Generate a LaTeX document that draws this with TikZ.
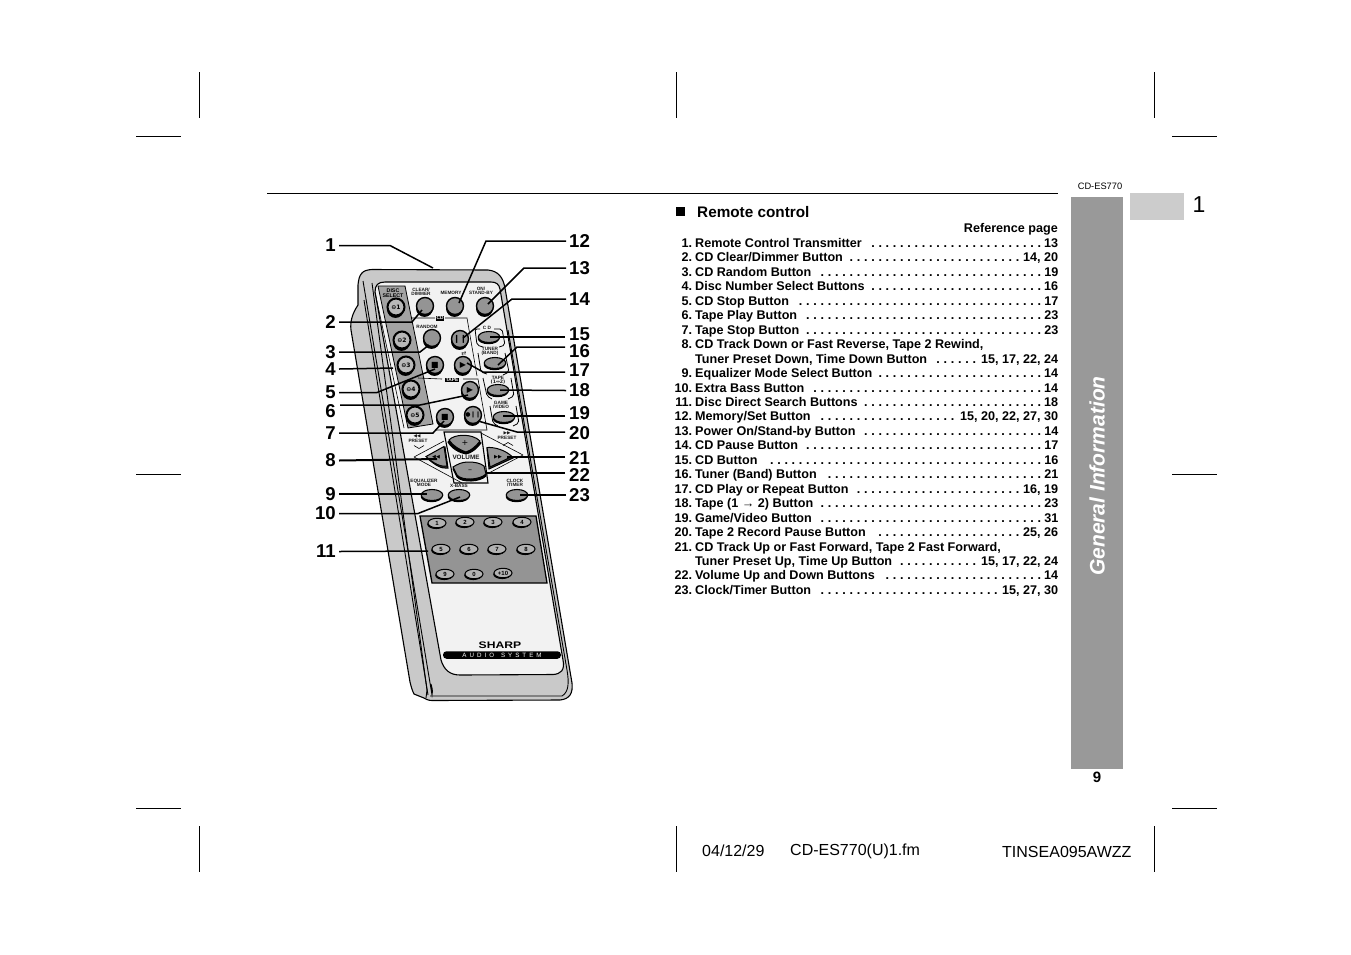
\documentclass[tikz,border=0pt]{standalone}
\usepackage{fontspec}
\setmainfont{Liberation Sans}
\newfontfamily\symf{DejaVu Sans}
\usetikzlibrary{shadows,shapes.geometric}
\newcommand{\fs}[1]{\fontsize{#1}{#1}\selectfont}
\newcommand{\rowline}[4]{%
  \node[rowtext] (row#1) at (674,#2) {\hbox to 384pt{\hbox to 18pt{\hss #3}\hskip 3pt #4\hfill}};}
\newcommand{\dotrow}[6]{% name y num text gap page
  \node[rowtext] (row#1) at (674,#2) {\hbox to 384pt{\hbox to 18pt{\hss #3}\hskip 3pt #4\hskip #5pt\leaders\hbox to 7.23pt{\hss.\hss}\hfill\hskip 0.5pt #6}};}
\tikzset{
  x=1pt,y=-1pt,
  rowtext/.style={anchor=base west,yshift=-4.6pt,inner sep=0pt,font=\bfseries\fs{12.6}},
  crop/.style={line width=0.8pt,black},
  num/.style={font=\bfseries\fs{18.6},inner sep=3pt},
  numL/.style={num,anchor=east},
  numR/.style={num,anchor=west},
  leader/.style={line width=1.5pt,black,line join=miter},
  body/.style={draw=black,line width=1.1pt,fill=black!21},
  edge/.style={draw=black,line width=0.9pt},
  thinl/.style={draw=black,line width=0.6pt},
  rb/.style={circle,minimum size=17pt,inner sep=0pt,draw=black,line width=1.4pt,fill=black!42,
    general shadow={shadow xshift=-0.5pt,shadow yshift=-2.4pt,fill=black}},
  db/.style={rb,minimum size=17pt,line width=2pt,fill=black!28},
  ob/.style={ellipse,minimum width=21.5pt,minimum height=11pt,inner sep=0pt,draw=black,line width=1.1pt,fill=black!42,
    general shadow={shadow xshift=-0.5pt,shadow yshift=-1.7pt,fill=black}},
  nb/.style={ellipse,minimum width=18pt,minimum height=9.5pt,inner sep=0pt,draw=black,line width=1pt,fill=black!30,
    font=\bfseries\fs{6},text=black,
    general shadow={shadow xshift=-0.8pt,shadow yshift=-1.3pt,fill=black}},
  tiny/.style={font=\bfseries\fs{4.7},align=center,inner sep=0pt,text=black!90},
  vb/.style={draw=black,line width=1pt,fill=black!42},
  sym/.style={inner sep=0pt,font=\symf\fs{8}},
  ftr/.style={font=\fs{16},inner sep=0pt,anchor=west},
}
\begin{document}
\begin{tikzpicture}
\useasboundingbox (0,0) rectangle (1351,954);
\fill[white] (0,0) rectangle (1351,954);
% crop marks
\foreach \cx in {199,676,1154}{
  \draw[crop] (\cx,72) -- (\cx,118);
  \draw[crop] (\cx,826) -- (\cx,872);}
\foreach \cy in {136,474,808}{
  \draw[crop] (136,\cy) -- (181,\cy);
  \draw[crop] (1172,\cy) -- (1217,\cy);}
\draw[crop] (267,193.5) -- (1058,193.5);
% sidebar
\fill[black!40] (1071,197) rectangle (1123,769);
\fill[black!20] (1130,193) rectangle (1184,220);
\node[inner sep=0pt,font=\fs{23}] (tabnum) at (1199,205) {1};
\node[inner sep=0pt,font=\fs{9.3}] (model) at (1100,186) {CD-ES770};
\node[inner sep=0pt,font=\bfseries\fs{15}] (pageno) at (1097,777) {9};
\node[inner sep=0pt,rotate=90,text=white,font=\bfseries\itshape\fs{21}] (side) at (1097,476) {General Information};
% footer
\node[ftr] (f1) at (702,851) {04/12/29};
\node[ftr] (f2) at (790,851) {CD-ES770(U)1.fm};
\node[ftr] (f3) at (1002,852) {TINSEA095AWZZ};
% heading
\fill[black] (676,207) rectangle (684.5,216);
\node[inner sep=0pt,anchor=west,font=\bfseries\fs{15.3}] (head) at (697,212) {Remote control};
\node[inner sep=0pt,anchor=east,font=\bfseries\fs{12.6}] (refp) at (1058,229) {Reference page};
% rows
\dotrow{a}{242.5}{1.}{Remote Control Transmitter}{3}{13}
\dotrow{b}{257}{2.}{CD Clear/Dimmer Button}{4}{14, 20}
\dotrow{c}{271.5}{3.}{CD Random Button}{3}{19}
\dotrow{d}{286}{4.}{Disc Number Select Buttons}{3}{16}
\dotrow{e}{300.5}{5.}{CD Stop Button}{8}{17}
\dotrow{f}{315}{6.}{Tape Play Button}{3}{23}
\dotrow{g}{329.5}{7.}{Tape Stop Button}{3}{23}
\rowline{h}{344}{8.}{CD Track Down or Fast Reverse, Tape 2 Rewind,}
\dotrow{i}{358.5}{}{Tuner Preset Down, Time Down Button}{2}{15, 17, 22, 24}
\dotrow{j}{373}{9.}{Equalizer Mode Select Button}{3}{14}
\dotrow{k}{387.5}{10.}{Extra Bass Button}{3}{14}
\dotrow{l}{402}{11.}{Disc Direct Search Buttons}{3}{18}
\dotrow{m}{416}{12.}{Memory/Set Button}{8}{15, 20, 22, 27, 30}
\dotrow{n}{431}{13.}{Power On/Stand-by Button}{5}{14}
\dotrow{o}{445}{14.}{CD Pause Button}{3}{17}
\dotrow{p}{460}{15.}{CD Button}{4}{16}
\dotrow{q}{474}{16.}{Tuner (Band) Button}{8}{21}
\dotrow{r}{489}{17.}{CD Play or Repeat Button}{5}{16, 19}
\dotrow{s}{503}{18.}{Tape (1 → 2) Button}{3}{23}
\dotrow{t}{517.5}{19.}{Game/Video Button}{3}{31}
\dotrow{u}{532}{20.}{Tape 2 Record Pause Button}{8}{25, 26}
\rowline{v}{546.5}{21.}{CD Track Up or Fast Forward, Tape 2 Fast Forward,}
\dotrow{w}{561}{}{Tuner Preset Up, Time Up Button}{3}{15, 17, 22, 24}
\dotrow{x}{575}{22.}{Volume Up and Down Buttons}{6}{14}
\dotrow{y}{590}{23.}{Clock/Timer Button}{3}{15, 27, 30}

% ---------- remote body
\path[body] (358,285) .. controls (359,274) and (362,270) .. (372,269.5)
  -- (488,270) .. controls (498,271) and (503,277) .. (505,288)
  -- (572,683) .. controls (573,693) and (570,699) .. (560,700)
  -- (432,700.5) .. controls (428,700.5) and (426,699) .. (424,698)
  -- (414,694) .. controls (412,690) and (411,686) .. (410,682)
  -- (351,330) .. controls (350,322) and (352,314) .. (358,305) -- cycle;
\draw[edge] (363,281) -- (432,695) .. controls (433,690) and (432,688) .. (431,684);
\draw[edge] (372,283) -- (427,690) (427,690) -- (426,698);
\draw[edge] (364,300) -- (428,695);
% right inner edge
\draw[edge] (508,330) -- (567,670) .. controls (569,682) and (569,692) .. (562,696) -- (430,696);
% face
\path[draw=black,line width=1.1pt,fill=black!5] (375,292) .. controls (375,285) and (378,282) .. (385,282)
  -- (491,282) .. controls (496,282) and (499,284) .. (500,289)
  -- (563,660) .. controls (565,670) and (561,674) .. (553,674.5)
  -- (460,675) .. controls (450,675) and (444,670) .. (441,660) -- cycle;
% disc strip
\path[fill=black!36,draw=black,line width=0.8pt] (378,286) -- (405,286) -- (433,424) -- (408,428) -- cycle;
\draw[thinl] (375,292) -- (404,428);
% frames
\draw[thinl] (412,318) -- (435,318) (445,318) -- (467,318) -- (477,376);
\draw[thinl] (418,378) -- (442,379) (463,379) -- (478,379) -- (487,430) -- (435,430);
\node[fill=black,text=white,inner sep=0.8pt,font=\bfseries\fs{4.8}] (cdtag) at (440,318) {CD};
\node[fill=black,text=white,inner sep=0.8pt,font=\bfseries\fs{4.8}] (tapetag) at (452,380) {TAPE};
% brackets
\draw[thinl,line width=0.8pt,rounded corners=2pt] (480,329) -- (475,329) -- (477,345) -- (483,347);
\draw[thinl,line width=0.8pt,rounded corners=2pt] (494,329) -- (502,329) -- (505,345) -- (499,347);
\draw[thinl,line width=0.8pt,rounded corners=2pt] (478,353) -- (481,372) -- (487,374);
\draw[thinl,line width=0.8pt,rounded corners=2pt] (505,353) -- (509,372) -- (503,375);
\draw[thinl,line width=0.8pt,rounded corners=2pt] (483,378) -- (487,396) -- (492,399);
\draw[thinl,line width=0.8pt,rounded corners=2pt] (511,378) -- (514,396) -- (508,399);
\draw[thinl,line width=0.8pt,rounded corners=2pt] (490,406) -- (493,423) -- (498,426);
\draw[thinl,line width=0.8pt,rounded corners=2pt] (516,406) -- (519,423) -- (513,426);
% tiny labels
\node[tiny,text=black,font=\bfseries\fs{5.3}] (tdisc) at (393,293) {DISC\\[-0.5pt]SELECT};
\node[tiny] (tclear) at (421,291.5) {CLEAR/\\[-0.5pt]DIMMER};
\node[tiny] (tmem) at (451,293) {MEMORY};
\node[tiny] (tonst) at (481,291) {ON/\\[-0.5pt]STAND-BY};
\node[tiny] (trand) at (427,327) {RANDOM};
\node[tiny] (tcdb) at (487,328) {C D};
\node[tiny] (ttun) at (490,351) {TUNER\\[-0.5pt](BAND)};
\node[tiny,font=\symf\fs{6}] (trep) at (464,354) {⇄};
\node[tiny] (ttape) at (498,380.5) {TAPE\\[-0.5pt]{\symf (1↔2)}};
\node[tiny] (tgame) at (501,405) {GAME\\[-0.5pt]/VIDEO};
\node[tiny,font=\symf\fs{4.5}] (tpls) at (417,436) {◀◀};
\node[tiny] (tpl) at (418,441) {PRESET};
\node[tiny,font=\symf\fs{4.5}] (tprs) at (507,433) {▶▶};
\node[tiny] (tpr) at (507,438) {PRESET};
\node[tiny,font=\bfseries\fs{6.3}] (tvol) at (466,457) {VOLUME};
\node[tiny] (teq) at (424,483) {EQUALIZER\\[-0.5pt]MODE};
\node[tiny] (txb) at (459,486) {X-BASS};
\node[tiny] (tclk) at (515,483) {CLOCK\\[-0.5pt]/TIMER};
% chevrons near PRESET
\draw[thinl] (414,445.5) -- (419,448.5) -- (424,445.5);
\draw[thinl] (503,445.5) -- (508,442.5) -- (513,445.5);
% volume frame + diamond
\draw[thinl] (414,457) -- (444,441) (414,457) -- (462,483);
\draw[thinl] (523,455) -- (481,433);
\draw[thinl] (523,455) -- (487,474);
\draw[draw=black,line width=1.1pt] (444,432) -- (481,432) -- (488,483) -- (454,483) -- cycle;
% volume / seek buttons
\path[vb,fill=black] (448,442) .. controls (452,436) and (470,435) .. (481,443) .. controls (477,448) and (472,453) .. (466,454) .. controls (460,453) and (452,449) .. (448,442) -- cycle;
\path[vb] (449,440) .. controls (454,434) and (472,433) .. (480,441) .. controls (476,446) and (472,450) .. (466,452) .. controls (460,450) and (453,446) .. (449,440) -- cycle;
\node[sym] (vplus) at (465,443) {+};
\path[vb,fill=black] (453,469) .. controls (458,466) and (462,463) .. (468,463) .. controls (475,463) and (480,464) .. (484,467) -- (486,476) .. controls (480,482) and (462,483) .. (457,477) -- cycle;
\path[vb] (453,467) .. controls (458,464) and (462,462) .. (468,462) .. controls (475,462) and (480,463) .. (484,466) -- (486,474) .. controls (480,480) and (462,481) .. (457,475) -- cycle;
\node[sym] (vminus) at (470,471) {–};
\path[vb,fill=black!80] (427,458) -- (445,447) -- (448,468) .. controls (442,469) and (436,466) .. (427,458) -- cycle;
\path[vb] (426,456.5) -- (444,446.5) -- (447,466) .. controls (441,467) and (434,464) .. (426,456.5) -- cycle;
\node[sym,font=\symf\fs{5}] (srew) at (436,457) {◀◀};
\path[vb,fill=black!80] (487,449) .. controls (495,449) and (505,452) .. (513,458) -- (489,469) -- cycle;
\path[vb] (487,447.5) .. controls (495,447) and (505,450) .. (512,456.5) -- (490,467) -- cycle;
\node[sym,font=\symf\fs{5}] (sff) at (498,457) {▶▶};
% round buttons
\node[db] (d1) at (396,307) {};
\node[db] (d2) at (402,340) {};
\node[db] (d3) at (406,365) {};
\node[db] (d4) at (411,389) {};
\node[db] (d5) at (415,415) {};
\foreach \n/\lab in {d1/1,d2/2,d3/3,d4/4,d5/5}{
  \node[inner sep=0pt,font=\symf\bfseries\fs{6}] (t\n) at (\n) {⊖\lab};}
\node[rb] (bclear) at (425,306) {};
\node[rb] (bmem) at (455,306) {};
\node[rb] (bpow) at (485,306) {};
\node[rb] (brand) at (432,338) {};
\node[rb] (bpause) at (460,339) {};
\node[rb] (bstop) at (435,365) {};
\node[rb] (bplay) at (463,365) {};
\node[rb] (btplay) at (470,390) {};
\node[rb] (btstop) at (445,417) {};
\node[rb] (brec) at (473,415) {};
\node[sym] (ip) at (bpause) {❙❙};
\node[sym] (is) at (bstop) {■};
\node[sym] (iply) at (bplay) {▶};
\node[sym] (itp) at (btplay) {▶};
\node[sym] (its) at (btstop) {■};
\node[sym,font=\symf\fs{6}] (ir) at (brec) {●❙❙};
% oval buttons
\node[ob] (bcd) at (489,337) {};
\node[ob] (btun) at (495,363) {};
\node[ob] (btape) at (498,390) {};
\node[ob] (bgame) at (504,417) {};
\node[ob] (beq) at (432,495) {};
\node[ob] (bxb) at (459,495) {};
\node[ob] (bclk) at (517,495) {};
% number panel
\path[fill=black!42,draw=black,line width=1.3pt] (420,516) -- (536,516) -- (547,583) -- (432,583) -- cycle;
\node[nb] (n1) at (437,523) {1};
\node[nb] (n2) at (465,522) {2};
\node[nb] (n3) at (493,522) {3};
\node[nb] (n4) at (522,522) {4};
\node[nb] (n5) at (441,549) {5};
\node[nb] (n6) at (469,549) {6};
\node[nb] (n7) at (497,549) {7};
\node[nb] (n8) at (526,549) {8};
\node[nb] (n9) at (445,574) {9};
\node[nb] (n0) at (474,574) {0};
\node[nb] (n10) at (503,573) {+10};
% brand
\node[inner sep=0pt,font=\bfseries\fs{9.5},xscale=1.28,transform shape] (sharp) at (500,645) {SHARP};
\node[fill=black,text=white,rounded corners=3.5pt,minimum width=118pt,minimum height=7.5pt,inner sep=0pt,font=\fs{6.2}] (audio) at (502,655) {A\hskip 3pt U\hskip 3pt D\hskip 3pt I\hskip 3pt O\hskip 7pt S\hskip 3pt Y\hskip 3pt S\hskip 3pt T\hskip 3pt E\hskip 3pt M};

% targets
\coordinate (T1) at (433,268);
\coordinate (T2) at (422,310);
\coordinate (T3) at (429,345);
\coordinate (T4) at (393,368);
\coordinate (T5) at (435,369);
\coordinate (T6) at (468,395);
\coordinate (T7) at (444,421);
\coordinate (T8) at (437,459);
\coordinate (T9) at (427,494);
\coordinate (T10) at (460,497);
\coordinate (T11) at (428,551);
\coordinate (T12) at (459,303);
\coordinate (T13) at (488,304);
\coordinate (T14) at (463,338);
\coordinate (T15) at (490,337);
\coordinate (T16) at (498,365);
\coordinate (T17) at (467,363);
\coordinate (T18) at (500,390);
\coordinate (T19) at (503,416);
\coordinate (T20) at (478,421);
\coordinate (T21) at (507,457);
\coordinate (T22) at (487,473);
\coordinate (T23) at (520,495);
% line starts that do not sit at their number's mid-height
\coordinate (S6) at (340,405);
\coordinate (S15) at (565,337);
\coordinate (S16) at (565,347);
\coordinate (S17) at (565,372);
\coordinate (S19) at (565,416);
\coordinate (S20) at (565,432);
\coordinate (S21) at (565,457);
\coordinate (S22) at (565,473);
% left numbers
\node[numL] (L1) at (339,245.5) {1};
\node[numL] (L2) at (339,322) {2};
\node[numL] (L3) at (339,352) {3};
\node[numL] (L4) at (339,369) {4};
\node[numL] (L5) at (339,392.5) {5};
\node[numL] (L6) at (339,411) {6};
\node[numL] (L7) at (339,433) {7};
\node[numL] (L8) at (339,460.5) {8};
\node[numL] (L9) at (339,494) {9};
\node[numL] (L10) at (339,513.5) {10};
\node[numL] (L11) at (339,551.5) {11};
% right numbers
\node[numR,inner ysep=0pt] (R12) at (566,241) {12};
\node[numR,inner ysep=0pt] (R13) at (566,268) {13};
\node[numR,inner ysep=0pt] (R14) at (566,299) {14};
\node[numR,inner ysep=0pt] (R15) at (566,334) {15};
\node[numR,inner ysep=0pt] (R16) at (566,351) {16};
\node[numR,inner ysep=0pt] (R17) at (566,370) {17};
\node[numR,inner ysep=0pt] (R18) at (566,390.5) {18};
\node[numR,inner ysep=0pt] (R19) at (566,413) {19};
\node[numR,inner ysep=0pt] (R20) at (566,433) {20};
\node[numR,inner ysep=0pt] (R21) at (566,458) {21};
\node[numR,inner ysep=0pt] (R22) at (566,474.5) {22};
\node[numR,inner ysep=0pt] (R23) at (566,495) {23};
% leaders
\draw[leader] (L1.east) -- (390,245.5) -- (T1);
\draw[leader] (L2.east) -- (412,322) -- (T2);
\draw[leader] (L3.east) -- (420,352) -- (T3);
\draw[leader] (L4.east) -- (T4);
\draw[leader] (L5.east) -- (377,392.5) -- (T5);
\draw[leader] (S6) -- (420,405) -- (T6);
\draw[leader] (L7.east) -- (433,433) -- (T7);
\draw[leader,line width=2pt] (L8.east) -- (T8);
\draw[leader] (L9.east) -- (T9);
\draw[leader] (L10.east) -- (418,513.5) -- (T10);
\draw[leader] (L11.east) -- (T11);
\draw[leader] (R12.west) -- (486,241) -- (T12);
\draw[leader] (R13.west) -- (524,268) -- (T13);
\draw[leader] (R14.west) -- (512,299) -- (T14);
\draw[leader] (S15) -- (T15);
\draw[leader] (S16) -- (517,347) -- (T16);
\draw[leader] (S17) -- (483,372) -- (T17);
\draw[leader] (R18.west) -- (T18);
\draw[leader] (S19) -- (T19);
\draw[leader] (S20) -- (517,432) -- (T20);
\draw[leader] (S21) -- (T21);
\draw[leader] (S22) -- (T22);
\draw[leader] (R23.west) -- (T23);
\end{tikzpicture}
\end{document}
